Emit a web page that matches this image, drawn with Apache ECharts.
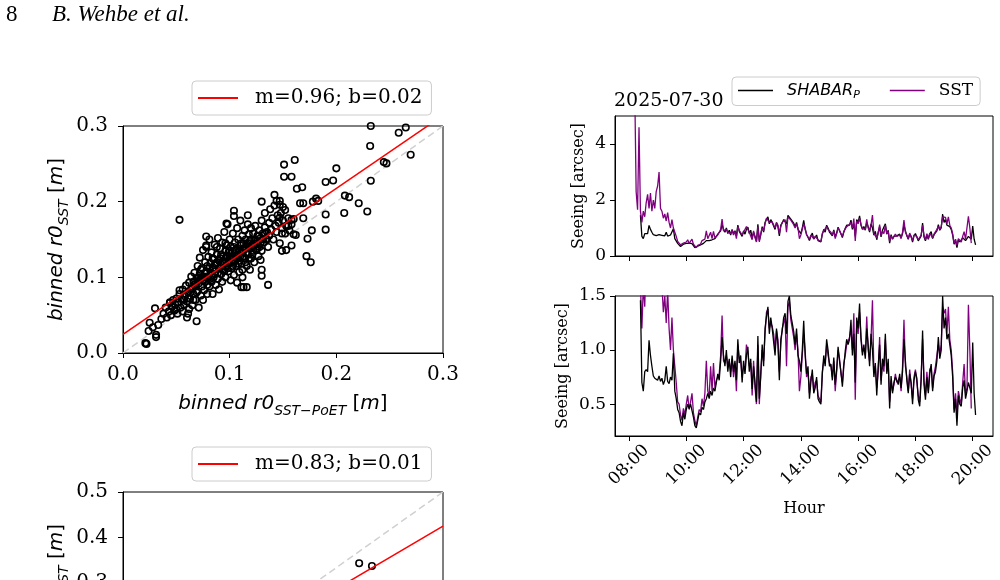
<!DOCTYPE html>
<html>
<head>
<meta charset="utf-8">
<script src="https://cdn.jsdelivr.net/npm/echarts@6.0.0/dist/echarts.min.js"></script>
<style>
  html, body { margin: 0; padding: 0; background: #fff; }
  #chart { width: 1000px; height: 580px; }
</style>
</head>
<body>
<div id="chart"></div>
<script>
// scatter: binned r0 (SST-PoET) vs binned r0 (SST), top panel
const r0Pairs = [
  [0.021,0.013],[0.022,0.012],[0.024,0.029],[0.025,0.040],[0.028,0.034],[0.030,0.059],[0.031,0.021],[0.031,0.024],
  [0.033,0.037],[0.053,0.176],[0.069,0.042],[0.061,0.052],[0.044,0.067],[0.053,0.083],
  [0.136,0.090],[0.130,0.102],[0.130,0.110],[0.111,0.087],[0.113,0.087],[0.129,0.123],
  [0.151,0.249],[0.151,0.233],[0.158,0.233],[0.161,0.255],[0.142,0.209],[0.130,0.200],[0.104,0.188],[0.104,0.181],
  [0.117,0.182],[0.097,0.171],[0.078,0.154],[0.078,0.142],[0.144,0.201],[0.147,0.196],[0.150,0.193],
  [0.2323,0.300],[0.2585,0.291],[0.2651,0.298],[0.2317,0.2735],[0.2697,0.262],[0.2445,0.2523],[0.247,0.2506],
  [0.2323,0.2276],[0.200,0.244],[0.190,0.226],[0.197,0.228],[0.163,0.217],[0.168,0.219],[0.208,0.208],[0.212,0.206],
  [0.221,0.198],[0.229,0.187],[0.2074,0.185],[0.190,0.183],[0.190,0.163],[0.177,0.162],[0.173,0.151],[0.172,0.128],
  [0.176,0.120],[0.158,0.142],[0.153,0.136],[0.149,0.135],[0.160,0.157],[0.162,0.156],[0.169,0.178],[0.166,0.198],
  [0.169,0.198],[0.178,0.200],[0.181,0.204],[0.183,0.201],[0.152,0.189],[0.158,0.176],[0.160,0.177],[0.155,0.168],
  [0.149,0.158],[0.147,0.179],[0.147,0.201],
  [0.036,0.045],[0.038,0.052],[0.040,0.060],[0.041,0.047],[0.043,0.055],[0.044,0.066],[0.045,0.050],[0.046,0.061],
  [0.047,0.070],[0.048,0.056],[0.049,0.064],[0.050,0.072],[0.050,0.058],
  [0.051,0.052],[0.052,0.067],[0.053,0.078],[0.054,0.060],[0.055,0.071],[0.056,0.084],[0.056,0.055],[0.057,0.064],
  [0.058,0.075],[0.059,0.089],[0.060,0.068],[0.060,0.047],[0.061,0.080],[0.062,0.058],[0.062,0.093],
  [0.063,0.072],[0.064,0.085],[0.064,0.101],[0.065,0.063],[0.066,0.078],[0.066,0.094],[0.067,0.106],[0.068,0.070],
  [0.068,0.088],[0.069,0.099],[0.070,0.082],[0.070,0.115],[0.071,0.060],[0.071,0.092],[0.072,0.105],[0.072,0.126],
  [0.073,0.076],[0.073,0.097],[0.074,0.088],[0.074,0.112],[0.075,0.136],[0.075,0.070],
  [0.076,0.101],[0.076,0.083],[0.077,0.120],[0.077,0.094],[0.078,0.108],[0.078,0.140],[0.079,0.078],[0.079,0.115],
  [0.080,0.099],[0.080,0.127],[0.081,0.088],[0.081,0.150],[0.082,0.106],[0.082,0.119],[0.083,0.094],[0.083,0.133],
  [0.084,0.111],[0.084,0.078],[0.085,0.124],[0.085,0.100],[0.086,0.143],[0.086,0.116],[0.087,0.090],[0.087,0.108],
  [0.088,0.130],[0.088,0.120],[0.089,0.098],[0.089,0.152],[0.090,0.112],[0.090,0.084],
  [0.091,0.125],[0.091,0.138],[0.092,0.104],[0.092,0.117],[0.093,0.146],[0.093,0.094],[0.094,0.128],[0.094,0.110],
  [0.095,0.160],[0.095,0.121],[0.096,0.135],[0.096,0.100],[0.097,0.115],[0.097,0.142],[0.098,0.126],[0.098,0.170],
  [0.099,0.108],[0.099,0.133],[0.100,0.119],[0.100,0.150],[0.101,0.096],[0.101,0.140],[0.102,0.127],[0.102,0.112],
  [0.103,0.158],[0.103,0.134],[0.104,0.120],[0.104,0.103],[0.105,0.146],[0.105,0.128],
  [0.106,0.137],[0.106,0.115],[0.107,0.165],[0.107,0.093],[0.108,0.130],[0.108,0.150],[0.109,0.122],[0.109,0.107],
  [0.110,0.142],[0.110,0.175],[0.111,0.133],[0.111,0.118],[0.112,0.155],[0.112,0.100],[0.113,0.127],[0.113,0.145],
  [0.114,0.138],[0.114,0.162],[0.115,0.120],[0.115,0.150],[0.116,0.132],[0.116,0.087],[0.117,0.145],[0.117,0.170],
  [0.118,0.125],[0.118,0.157],[0.119,0.138],[0.119,0.110],[0.120,0.150],[0.120,0.165],
  [0.121,0.130],[0.122,0.143],[0.122,0.158],[0.123,0.120],[0.124,0.150],[0.124,0.168],[0.125,0.136],[0.126,0.155],
  [0.126,0.145],[0.127,0.128],[0.128,0.162],[0.128,0.140],[0.129,0.152],[0.130,0.175],[0.130,0.135],[0.131,0.158],
  [0.132,0.146],[0.133,0.166],[0.133,0.185],[0.134,0.150],[0.135,0.160],[0.136,0.140],[0.137,0.172],[0.137,0.155],
  [0.138,0.190],[0.139,0.163],[0.140,0.178],[0.141,0.150],[0.142,0.195],[0.143,0.168],
  [0.144,0.160],[0.145,0.182],[0.146,0.172],[0.147,0.145],[0.148,0.185],[0.149,0.165],[0.150,0.175],[0.152,0.158],
  [0.153,0.168],[0.155,0.178],[0.156,0.162],[0.158,0.170],
  [0.065,0.085],[0.067,0.090],[0.069,0.080],[0.071,0.100],[0.073,0.110],[0.075,0.095],[0.077,0.105],[0.079,0.090],
  [0.081,0.112],[0.083,0.102],[0.085,0.110],[0.087,0.118],[0.089,0.106],[0.091,0.112],[0.093,0.120],[0.095,0.108],
  [0.097,0.128],[0.099,0.118],[0.101,0.125],[0.103,0.115],[0.105,0.135],[0.107,0.125],[0.109,0.135],[0.111,0.145],
  [0.113,0.135],[0.115,0.140],[0.117,0.130],[0.119,0.148],[0.121,0.140],[0.123,0.150],[0.125,0.145],[0.127,0.155],
  [0.129,0.145],[0.131,0.150],[0.133,0.158],[0.135,0.150],[0.070,0.095],[0.074,0.100],[0.078,0.100],[0.082,0.098],
  [0.086,0.104],[0.090,0.122],[0.094,0.118],[0.098,0.112],[0.102,0.120],[0.106,0.128],[0.110,0.128],[0.114,0.125],
  [0.118,0.140],[0.122,0.135],[0.126,0.138],[0.057,0.070],[0.059,0.078],[0.061,0.072],[0.063,0.080],[0.066,0.070],
  [0.084,0.125],[0.088,0.140],[0.092,0.130],[0.096,0.145],[0.100,0.135],[0.104,0.140],[0.108,0.118],[0.112,0.110],
  [0.116,0.115],[0.120,0.125]
];
// lower panel (only the visible part)
const r0PairsLow = [[0.369,0.343],[0.389,0.337]];

const fitTop = { m: 0.965, b: 0.0245 };
const fitLow = { m: 0.83, b: 0.01 };
const fitTopLabel = 'm=0.96; b=0.02';
const fitLowLabel = 'm=0.83; b=0.01';

// seeing time series, minutes since midnight
const minutes = [
  492,495,498,501,504,507,510,513,516,519,522,525,528,531,534,537,
  540,543,546,549,552,555,558,561,564,567,570,573,576,579,582,585,588,591,594,597,
  600,603,606,609,612,615,618,621,624,627,630,633,636,639,642,645,648,651,654,657,
  660,663,666,669,672,675,678,681,684,687,690,693,696,699,702,705,708,711,714,717,
  720,723,726,729,732,735,738,741,744,747,750,753,756,759,762,765,768,771,774,777,
  780,783,786,789,792,795,798,801,804,807,810,813,816,819,822,825,828,831,834,837,
  840,843,846,849,852,855,858,861,864,867,870,873,876,879,882,885,888,891,894,897,
  900,903,906,909,912,915,918,921,924,927,930,933,936,939,942,945,948,951,954,957,
  960,963,966,969,972,975,978,981,984,987,990,993,996,999,1002,1005,1008,1011,1014,1017,
  1020,1023,1026,1029,1032,1035,1038,1041,1044,1047,1050,1053,1056,1059,1062,1065,1068,1071,1074,1077,
  1080,1083,1086,1089,1092,1095,1098,1101,1104,1107,1110,1113,1116,1119,1122,1125,1128,1131,1134,1137,
  1140,1143,1146,1149,1152,1155,1158,1161,1164,1167,1170,1173,1176,1179,1182,1185,1188,1191,1194,1197,
  1200,1203,1206
];
const shabar = [
  null,null,null,null,1.46,0.70,0.62,0.80,0.82,0.80,1.09,0.95,0.85,0.76,0.74,0.73,
  0.72,0.76,0.71,0.74,0.68,0.72,0.85,0.71,0.69,0.75,0.72,0.97,0.62,0.55,0.45,0.42,0.34,0.30,0.42,0.36,
  0.45,0.50,0.46,0.50,0.44,0.38,0.30,0.28,0.35,0.42,0.40,0.47,0.45,0.52,0.55,0.60,0.55,0.62,0.58,0.65,
  0.62,0.70,0.78,0.72,0.90,1.12,0.95,0.85,1.00,0.80,0.92,0.75,0.95,0.80,0.90,0.72,1.10,0.88,0.95,0.70,
  0.90,0.78,0.95,1.03,0.80,0.92,0.64,0.85,0.70,0.52,1.13,0.55,0.75,1.05,0.85,1.20,1.31,1.40,1.15,1.30,
  1.20,1.21,0.95,1.20,1.05,0.72,1.10,1.18,1.30,1.34,1.15,1.45,1.50,1.32,1.25,1.17,1.05,1.20,0.95,0.90,
  0.80,1.00,1.27,0.95,0.78,0.85,0.55,0.70,0.82,0.60,0.65,0.75,0.55,0.52,0.50,0.78,0.95,0.85,1.10,1.00,
  0.85,0.87,0.72,0.93,0.68,0.82,1.03,0.90,0.80,0.66,0.85,0.99,1.10,1.05,1.10,1.28,0.95,1.15,0.70,1.30,
  1.20,1.43,1.10,0.95,1.05,0.92,1.20,1.05,0.85,1.15,1.00,0.75,0.88,0.58,0.85,1.05,0.68,0.92,0.85,1.15,
  0.78,0.92,0.46,0.76,0.60,0.70,0.75,0.72,0.68,0.78,0.65,0.80,1.10,0.90,0.72,0.60,0.78,0.70,0.50,0.72,
  0.80,0.74,0.54,0.48,0.72,1.18,0.68,0.54,0.75,0.60,0.78,0.87,0.62,0.76,0.80,0.90,1.12,0.92,1.00,1.50,
  1.20,1.30,1.10,1.15,1.05,0.95,0.75,0.42,0.55,0.30,0.58,0.50,0.48,0.65,0.72,0.55,0.62,0.70,0.65,0.60,
  1.07,0.60,0.40
];
const sst = [
  6.00,2.30,1.65,4.60,1.60,1.20,1.60,1.40,1.90,2.20,1.70,2.25,1.60,2.00,1.70,2.30,
  2.50,3.00,1.70,1.60,1.35,1.50,1.25,1.55,1.20,1.00,1.30,1.00,0.85,0.70,0.52,0.50,0.40,0.35,0.46,0.40,
  0.50,0.58,0.45,0.52,0.60,0.42,0.35,0.30,0.38,0.45,0.43,0.55,0.48,0.60,0.90,0.62,0.58,0.85,0.62,0.88,
  0.65,0.72,0.75,0.78,0.95,1.32,0.90,0.88,0.95,0.85,0.90,0.80,0.92,0.75,0.88,0.62,1.05,0.92,0.90,0.75,
  0.85,0.82,1.05,0.98,0.85,0.88,0.58,0.90,0.65,0.50,1.05,0.50,0.80,1.00,0.90,1.15,1.35,1.38,1.20,1.25,
  1.22,1.15,1.00,1.18,1.10,0.80,1.05,1.20,1.25,1.30,0.85,1.40,1.45,1.28,1.20,1.12,1.00,1.15,1.00,0.62,
  0.75,0.95,1.15,1.00,0.75,0.80,0.60,0.75,0.78,0.62,0.70,0.72,0.58,0.55,0.52,0.80,0.90,0.88,1.05,0.95,
  0.88,0.85,0.75,0.90,0.62,0.80,1.00,0.92,0.78,0.70,0.88,0.95,1.05,1.08,1.12,1.20,1.00,1.34,0.54,1.25,
  1.15,1.35,1.12,0.98,1.02,0.95,1.31,1.00,0.90,1.10,1.46,0.80,0.85,0.65,0.80,1.12,0.72,0.88,0.80,1.10,
  0.80,0.88,0.52,0.72,0.62,0.68,0.78,0.70,0.72,0.75,0.62,0.85,1.28,0.85,0.75,0.62,0.82,0.68,0.55,0.75,
  0.82,0.70,0.58,0.52,0.75,1.10,0.72,0.58,0.80,0.62,0.82,0.85,0.65,0.78,0.85,0.95,1.05,0.95,1.05,1.40,
  1.34,1.38,1.15,1.40,1.10,1.00,0.80,0.45,0.60,0.38,0.62,0.55,0.50,0.70,0.87,0.60,0.65,1.42,1.00,0.46,
  null,null,null
];
const hourTicks = [480, 600, 720, 840, 960, 1080, 1200];
const scatterTicksTop = [0, 0.1, 0.2, 0.3];
const scatterTicksLow = [0, 0.1, 0.2, 0.3, 0.4, 0.5];
const seeingTicksTop = [0, 2, 4];
const seeingTicksLow = [0.5, 1.0, 1.5];

const chart = echarts.init(document.getElementById('chart'));

const serif = 'DejaVu Serif';
const mathRich = {
  i: { fontFamily: 'DejaVu Sans', fontStyle: 'italic', fontSize: 20, lineHeight: 28, color: '#000' },
  n: { fontFamily: 'DejaVu Sans', fontSize: 20, lineHeight: 28, color: '#000' },
  s: { fontFamily: 'DejaVu Sans', fontStyle: 'italic', fontSize: 14, lineHeight: 14, verticalAlign: 'bottom', color: '#000' }
};
const pad2 = v => (v < 10 ? '0' : '') + v;
const hhmm = v => pad2(Math.floor(v / 60)) + ':' + pad2(v % 60);

function scatterX(gridIndex, max, ticks) {
  return {
    type: 'value', gridIndex: gridIndex, min: 0, max: max,
    name: '{i|binned r0}{s|SST\u2212PoET}{n| [}{i|m}{n|]}',
    nameLocation: 'middle', nameGap: 37,
    nameTextStyle: { rich: mathRich },
    axisLine: { onZero: false, lineStyle: { color: '#000', width: 1 } },
    axisTick: { length: 5, lineStyle: { color: '#000' }, customValues: ticks },
    axisLabel: { customValues: ticks, color: '#000', fontFamily: serif, fontSize: 20, margin: 12,
      formatter: v => v.toFixed(1) },
    splitLine: { show: false }
  };
}
function scatterY(gridIndex, max, ticks) {
  return {
    type: 'value', gridIndex: gridIndex, min: 0, max: max,
    name: '{i|binned r0}{s|SST}{n| [}{i|m}{n|]}',
    nameLocation: 'middle', nameGap: 52,
    nameTextStyle: { rich: mathRich },
    axisLine: { lineStyle: { color: '#000', width: 1 } },
    axisTick: { length: 5, lineStyle: { color: '#000' }, customValues: ticks },
    axisLabel: { customValues: ticks, color: '#000', fontFamily: serif, fontSize: 20, margin: 15,
      formatter: v => v.toFixed(1) },
    splitLine: { show: false }
  };
}
function timeX(gridIndex, showLabels) {
  return {
    type: 'value', gridIndex: gridIndex, min: 450.7, max: 1242.5,
    name: showLabels ? 'Hour' : '', nameLocation: 'middle', nameGap: 65,
    nameTextStyle: { fontFamily: serif, fontSize: 16, color: '#000' },
    axisLine: { onZero: false, lineStyle: { color: '#000', width: 1 } },
    axisTick: { length: 5, lineStyle: { color: '#000' }, customValues: hourTicks },
    axisLabel: { show: showLabels, customValues: hourTicks, rotate: 45, align: 'center', verticalAlign: 'middle',
      color: '#000', fontFamily: serif, fontSize: 17, margin: 29, formatter: hhmm },
    splitLine: { show: false }
  };
}
function seeingY(gridIndex, min, max, ticks, gap, fmt) {
  return {
    type: 'value', gridIndex: gridIndex, min: min, max: max,
    name: 'Seeing [arcsec]', nameLocation: 'middle', nameGap: gap,
    nameTextStyle: { fontFamily: serif, fontSize: 16, color: '#000' },
    axisLine: { lineStyle: { color: '#000', width: 1 } },
    axisTick: { length: 5, lineStyle: { color: '#000' }, customValues: ticks },
    axisLabel: { customValues: ticks, color: '#000', fontFamily: serif, fontSize: 17, margin: 9, formatter: fmt },
    splitLine: { show: false }
  };
}

const shabarPts = minutes.map((m, i) => [m, shabar[i]]);
const sstPts = minutes.map((m, i) => [m, sst[i]]);

function seeingSeries(name, data, color, gridIndex, z) {
  return {
    name: name, type: 'line', xAxisIndex: gridIndex, yAxisIndex: gridIndex,
    data: data, symbol: 'none', showSymbol: false, clip: true, z: z,
    lineStyle: { color: color, width: 1.3 }, itemStyle: { color: color }
  };
}

const legendBase = {
  orient: 'horizontal', icon: 'rect', itemWidth: 40, itemHeight: 2, itemGap: 30,
  backgroundColor: 'rgba(255,255,255,0.85)', borderColor: '#cccccc', borderWidth: 1, borderRadius: 4,
  selectedMode: false
};
const gridBase = { show: true, borderColor: '#000', borderWidth: 1, outerBoundsMode: 'none' };
const circleStyle = { color: 'rgba(0,0,0,0)', borderColor: '#000', borderWidth: 1.6, opacity: 1 };

const option = {
  animation: false,
  backgroundColor: '#fff',
  graphic: [
    { type: 'text', left: 6, top: 3, style: { text: '8', font: '23px "Liberation Serif"', fill: '#000' } },
    { type: 'text', left: 52, top: 3, style: { text: 'B. Wehbe et al.', font: 'italic 23px "Liberation Serif"', fill: '#000' } },
    { type: 'text', left: 614, top: 92, style: { text: '2025-07-30', font: '19px "DejaVu Serif"', fill: '#000' } }
  ],
  legend: [
    Object.assign({}, legendBase, {
      data: [fitTopLabel], left: 192, top: 81, padding: [7, 9, 7, 6],
      textStyle: { fontFamily: serif, fontSize: 20, color: '#000', padding: [0, 0, 0, 12] }
    }),
    Object.assign({}, legendBase, {
      data: [fitLowLabel], left: 192, top: 447, padding: [7, 9, 7, 6],
      textStyle: { fontFamily: serif, fontSize: 20, color: '#000', padding: [0, 0, 0, 12] }
    }),
    Object.assign({}, legendBase, {
      data: ['SHABAR', 'SST'], left: 732, top: 77, padding: [5, 7, 5, 6], itemWidth: 35, itemHeight: 1.6, itemGap: 30,
      formatter: name => (name === 'SHABAR' ? '{i|SHABAR}{s|P}' : '{n|' + name + '}'),
      textStyle: {
        padding: [0, 0, 0, 9],
        rich: {
          i: { fontFamily: 'DejaVu Sans', fontStyle: 'italic', fontSize: 16, lineHeight: 20, color: '#000' },
          s: { fontFamily: 'DejaVu Sans', fontStyle: 'italic', fontSize: 11, lineHeight: 11, verticalAlign: 'bottom', color: '#000' },
          n: { fontFamily: serif, fontSize: 17, lineHeight: 20, color: '#000' }
        }
      }
    })
  ],
  grid: [
    Object.assign({ left: 123, top: 126, width: 320, height: 227 }, gridBase),
    Object.assign({ left: 123, top: 492, width: 320, height: 227 }, gridBase),
    Object.assign({ left: 615, top: 116, width: 378, height: 140 }, gridBase),
    Object.assign({ left: 615, top: 296, width: 378, height: 140 }, gridBase)
  ],
  xAxis: [
    scatterX(0, 0.3, scatterTicksTop),
    scatterX(1, 0.5, scatterTicksLow),
    timeX(2, false),
    timeX(3, true)
  ],
  yAxis: [
    scatterY(0, 0.3, scatterTicksTop),
    scatterY(1, 0.5, scatterTicksLow),
    seeingY(2, 0, 5, seeingTicksTop, 28, v => String(v)),
    seeingY(3, 0.205, 1.5, seeingTicksLow, 44, v => v.toFixed(1))
  ],
  series: [
    {
      name: 'one-to-one', type: 'line', xAxisIndex: 0, yAxisIndex: 0, data: [[0, 0], [0.3, 0.3]],
      symbol: 'none', z: 1, lineStyle: { color: '#d0d0d0', width: 1.5, type: [7, 4] }
    },
    {
      name: 'r0', type: 'scatter', xAxisIndex: 0, yAxisIndex: 0, data: r0Pairs, symbol: 'circle', symbolSize: 6.5,
      z: 2, itemStyle: circleStyle
    },
    {
      name: fitTopLabel, type: 'line', xAxisIndex: 0, yAxisIndex: 0, clip: true, z: 3,
      data: [[0, fitTop.b], [0.3, fitTop.m * 0.3 + fitTop.b]],
      symbol: 'none', lineStyle: { color: '#ff0000', width: 1.5 }, itemStyle: { color: '#ff0000' }
    },
    {
      name: 'one-to-one low', type: 'line', xAxisIndex: 1, yAxisIndex: 1, data: [[0, 0], [0.5, 0.5]],
      symbol: 'none', z: 1, lineStyle: { color: '#d0d0d0', width: 1.5, type: [7, 4] }
    },
    {
      name: 'r0 low', type: 'scatter', xAxisIndex: 1, yAxisIndex: 1, data: r0PairsLow, symbol: 'circle', symbolSize: 6.5,
      z: 2, itemStyle: circleStyle
    },
    {
      name: fitLowLabel, type: 'line', xAxisIndex: 1, yAxisIndex: 1, clip: true, z: 3,
      data: [[0, fitLow.b], [0.5, fitLow.m * 0.5 + fitLow.b]],
      symbol: 'none', lineStyle: { color: '#ff0000', width: 1.5 }, itemStyle: { color: '#ff0000' }
    },
    seeingSeries('SHABAR', shabarPts, '#000000', 2, 2),
    seeingSeries('SST', sstPts, '#800080', 2, 3),
    seeingSeries('SST', sstPts, '#800080', 3, 2),
    seeingSeries('SHABAR', shabarPts, '#000000', 3, 3)
  ]
};

chart.setOption(option);
</script>
</body>
</html>
